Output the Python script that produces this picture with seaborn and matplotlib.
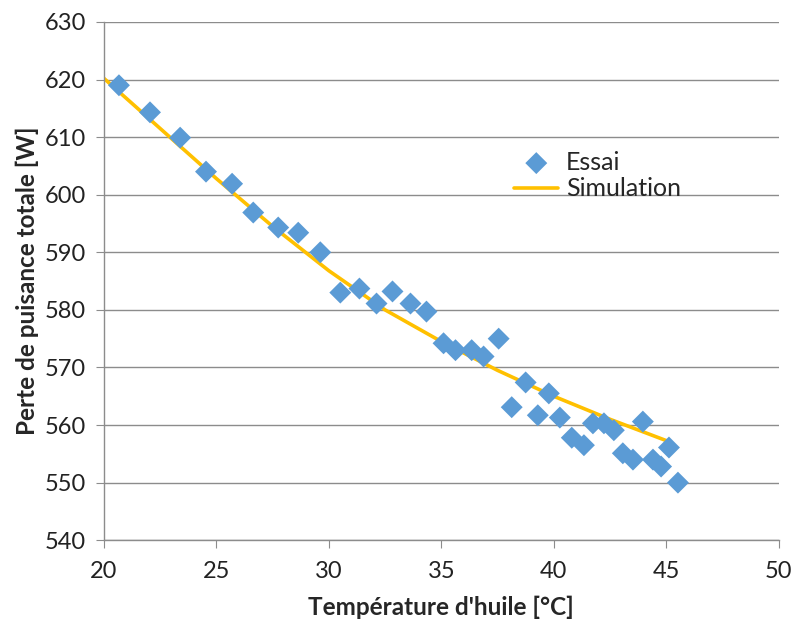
import matplotlib
matplotlib.use("Agg")
import matplotlib.pyplot as plt
import seaborn as sns
import pandas as pd

# Essai (measured points)
essai_temp = [20.67, 22.05, 23.39, 24.54, 25.70, 26.64, 27.75, 28.64, 29.62, 30.51,
              31.36, 32.12, 32.83, 33.63, 34.34, 35.10, 35.63, 36.35, 36.88, 37.55,
              38.13, 38.75, 39.29, 39.78, 40.27, 40.80, 41.34, 41.74, 42.23, 42.67,
              43.07, 43.52, 43.96, 44.41, 44.77, 45.12, 45.52]
essai_perte = [619.0, 614.3, 609.9, 604.0, 601.9, 596.9, 594.3, 593.4, 590.0, 583.0,
               583.7, 581.1, 583.2, 581.1, 579.7, 574.2, 573.0, 573.0, 571.9, 575.0,
               563.1, 567.4, 561.7, 565.5, 561.3, 557.8, 556.5, 560.3, 560.3, 559.1,
               555.1, 554.0, 560.6, 554.0, 552.8, 556.1, 550.0]

# Simulation curve
sim_temp = [20.0, 22.5, 25.0, 27.5, 30.0, 32.5, 35.0, 37.5, 40.0, 42.5, 45.0]
sim_perte = [620.2, 611.5, 602.8, 594.5, 586.8, 580.0, 574.5, 569.5, 565.0, 561.0, 557.3]

x_ticks = [20, 25, 30, 35, 40, 45, 50]
y_ticks = [540, 550, 560, 570, 580, 590, 600, 610, 620, 630]

sns.set_style("white")
plt.rcParams['font.family'] = ['Lato', 'DejaVu Sans']

df_essai = pd.DataFrame({"temp": essai_temp, "perte": essai_perte})
df_sim = pd.DataFrame({"temp": sim_temp, "perte": sim_perte})

fig = plt.figure(figsize=(7.93, 6.26), dpi=100)
ax = fig.add_axes([0.131, 0.137, 0.851, 0.828])

ax.grid(axis="y", color="#8c8c8c", linewidth=1.0)
ax.set_axisbelow(True)

sns.lineplot(data=df_sim, x="temp", y="perte", ax=ax, color="#FFC000",
             linewidth=2.6, label="Simulation", zorder=2)
sns.scatterplot(data=df_essai, x="temp", y="perte", ax=ax, marker="D", s=125,
                color="#5B9BD5", edgecolor="none", label="Essai", zorder=3)

ax.set_xlim(20, 50)
ax.set_ylim(540, 630)
ax.set_xticks(x_ticks)
ax.set_yticks(y_ticks)
ax.tick_params(axis="both", labelsize=17, colors="#222222", length=6,
               direction="out", bottom=True, left=True, color="#8c8c8c")
ax.tick_params(axis="x", pad=9)
ax.tick_params(axis="y", pad=7)

for side in ["top", "right"]:
    ax.spines[side].set_visible(False)
for side in ["left", "bottom"]:
    ax.spines[side].set_color("#8c8c8c")
    ax.spines[side].set_linewidth(1.0)

ax.set_xlabel("Température d'huile [°C]", fontsize=17.5, fontweight="bold", labelpad=10)
ax.set_ylabel("Perte de puisance totale [W]", fontsize=17.5, fontweight="bold", labelpad=4)

handles, labels = ax.get_legend_handles_labels()
order = [labels.index("Essai"), labels.index("Simulation")]
ax.legend([handles[i] for i in order], [labels[i] for i in order],
          loc="upper left", bbox_to_anchor=(0.575, 0.795), frameon=False,
          fontsize=18, handlelength=1.75, handletextpad=0.3, labelspacing=0.15)

fig.savefig("out.png", dpi=100)
